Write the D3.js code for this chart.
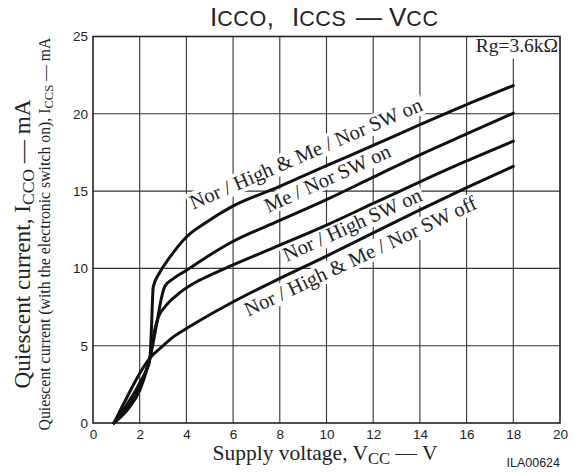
<!DOCTYPE html>
<html><head><meta charset="utf-8">
<script src="https://cdn.jsdelivr.net/npm/d3@7"></script>
<style>body{margin:0;background:#fff}svg{display:block}</style>
</head><body>
<svg id="c" width="578" height="474"></svg>
<script>
// ---- data ----
const xTicks = [0, 2, 4, 6, 8, 10, 12, 14, 16, 18, 20];
const yTicks = [0, 5, 10, 15, 20, 25];
const curveNames = ["Nor / High & Me / Nor SW on", "Me / Nor SW on", "Nor / High SW on", "Nor / High & Me / Nor SW off"];
const curveA = [[0.9,0],[1.5,0.9],[2.0,2.1],[2.3,3.4],[2.44,4.2],[2.5,6.0],[2.58,8.8],[2.87,9.77],[3.3,10.74],[4.0,12.03],[4.87,13.0],[5.87,13.93],[8,15.3],[10,16.65],[12,17.95],[14,19.3],[16,20.6],[18,21.83]];
const curveB = [[0.9,0],[1.5,1.1],[2.0,2.4],[2.44,4.2],[2.73,6.43],[2.94,8.15],[3.08,8.84],[3.44,9.34],[4.0,9.88],[4.87,10.74],[5.87,11.64],[8,13.1],[10,14.45],[12,15.9],[14,17.35],[16,18.7],[18,20.04]];
const curveC = [[0.9,0],[1.5,1.3],[2.0,2.6],[2.44,4.2],[2.58,5.57],[2.8,6.86],[3.08,7.51],[3.58,8.26],[4.3,9.02],[5.0,9.55],[5.87,10.14],[8,11.5],[10,12.8],[12,14.2],[14,15.6],[16,16.95],[18,18.23]];
const curveD = [[0.9,0],[1.45,1.65],[2.0,3.2],[2.44,4.2],[2.87,4.82],[3.44,5.57],[4.0,6.11],[4.72,6.76],[5.87,7.73],[8,9.35],[10,10.8],[12,12.3],[14,13.78],[16,15.22],[18,16.6]];
const curves = [curveA, curveB, curveC, curveD];
const labelAnchors = [[4.29,13.8],[7.51,13.58],[8.3,10.42],[6.65,6.88]];
const rgText = "Rg=3.6k\u03A9";
const figId = "ILA00624";

// ---- drawing ----
const svg = d3.select("#c");
const W = 578, H = 474;
const x = d3.scaleLinear().domain([0,20]).range([93,560]);
const y = d3.scaleLinear().domain([0,25]).range([423,36.5]);
const serif = "'Liberation Serif','Times New Roman',serif";
const sans = "'Liberation Sans',Arial,sans-serif";

svg.append("rect").attr("width",W).attr("height",H).attr("fill","#fff");

// grid
const g = svg.append("g");
g.selectAll("line.v").data(xTicks.filter(d=>d>0&&d<20)).join("line")
  .attr("x1",d=>x(d)).attr("x2",d=>x(d)).attr("y1",y(0)).attr("y2",y(25))
  .attr("stroke","#333").attr("stroke-width",1.1);
g.selectAll("line.h").data(yTicks.filter(d=>d>0&&d<25)).join("line")
  .attr("x1",x(0)).attr("x2",x(20)).attr("y1",d=>y(d)).attr("y2",d=>y(d))
  .attr("stroke","#333").attr("stroke-width",1.1);

// axes via d3 axis (labels only)
const xAxis = svg.append("g").attr("transform",`translate(0,${y(0)})`)
  .call(d3.axisBottom(x).tickValues(xTicks).tickSize(0).tickPadding(6));
xAxis.select(".domain").remove();
xAxis.selectAll("text").attr("font-family",sans).attr("font-size",13.5).attr("fill","#222");
const yAxis = svg.append("g").attr("transform",`translate(${x(0)},0)`)
  .call(d3.axisLeft(y).tickValues(yTicks).tickSize(0).tickPadding(5));
yAxis.select(".domain").remove();
yAxis.selectAll("text").attr("font-family",sans).attr("font-size",13.5).attr("fill","#222");

// frame
svg.append("rect").attr("x",x(0)).attr("y",y(25)).attr("width",x(20)-x(0)).attr("height",y(0)-y(25))
  .attr("fill","none").attr("stroke","#222").attr("stroke-width",1.6);

// curve labels on white bands
const angles = [-23.4,-24.6,-24.4,-25.3];
const lg = svg.selectAll("g.cl").data(curveNames).join("g")
  .attr("class","cl")
  .attr("transform",(d,i)=>`translate(${x(labelAnchors[i][0])},${y(labelAnchors[i][1])}) rotate(${angles[i]})`);
lg.each(function(d){
  const gg = d3.select(this);
  const tx = gg.append("text").attr("font-family",serif).attr("font-size",20.5).attr("fill","#222").text(d);
  const b = tx.node().getBBox();
  gg.insert("rect","text").attr("x",b.x-2).attr("y",b.y+1).attr("width",b.width+4).attr("height",b.height-2).attr("fill","#fff");
});

// Rg label
const rg = svg.append("text").attr("x",x(20)-2).attr("y",y(25)+15).attr("text-anchor","end")
  .attr("font-family",serif).attr("font-size",19.5).attr("fill","#222").text(rgText);
const bb = rg.node().getBBox();
svg.insert("rect", () => rg.node()).attr("x",bb.x-2).attr("y",y(25)+1).attr("width",bb.width+3).attr("height",bb.y+bb.height-y(25)+2).attr("fill","#fff");

// curves
const line = d3.line().x(d=>x(d[0])).y(d=>y(d[1])).curve(d3.curveMonotoneX);
svg.selectAll("path.cv").data(curves).join("path")
  .attr("class","cv").attr("d",line).attr("fill","none")
  .attr("stroke","#111").attr("stroke-width",3).attr("stroke-linejoin","round").attr("stroke-linecap","round");

// title
const t = svg.append("text").attr("y",26).attr("font-family",sans).attr("fill","#222");
[["I",26,210],["CCO",21.5,null],[",",26,null],["I",26,292],["CCS",21.5,null],["\u2014",26,356],["V",26,389],["CC",21.5,null]]
  .forEach(p=>{const s=t.append("tspan").attr("font-size",p[1]).text(p[0]); if(p[2]!==null) s.attr("x",p[2]); if(p[1]<26) s.attr("letter-spacing",0.6);});

// x axis title
const xt = svg.append("text").attr("x",325).attr("y",460).attr("text-anchor","middle")
  .attr("font-family",serif).attr("font-size",21.5).attr("fill","#222");
xt.append("tspan").text("Supply voltage, V");
xt.append("tspan").attr("font-size",16.5).attr("dy",4).text("CC");
xt.append("tspan").attr("dy",-4).text(" \u2014 V");

// fig id
svg.append("text").attr("x",560).attr("y",467).attr("text-anchor","end")
  .attr("font-family",sans).attr("font-size",12.5).attr("fill","#222").text(figId);

// y axis titles
const yt1 = svg.append("text").attr("transform","translate(30,244) rotate(-90)").attr("text-anchor","middle")
  .attr("font-family",serif).attr("font-size",23.2).attr("fill","#222");
yt1.append("tspan").text("Quiescent current, I");
yt1.append("tspan").attr("font-size",17.5).attr("dy",4).text("CCO");
yt1.append("tspan").attr("dy",-4).text(" \u2014 mA");

const yt2 = svg.append("text").attr("transform","translate(50,234) rotate(-90)").attr("text-anchor","middle")
  .attr("font-family",serif).attr("font-size",15.8).attr("fill","#222");
yt2.append("tspan").text("Quiescent current (with the electronic switch on), I");
yt2.append("tspan").attr("font-size",12.5).attr("dy",3).text("CCS");
yt2.append("tspan").attr("dy",-3).text(" \u2014 mA");
</script>
</body></html>
